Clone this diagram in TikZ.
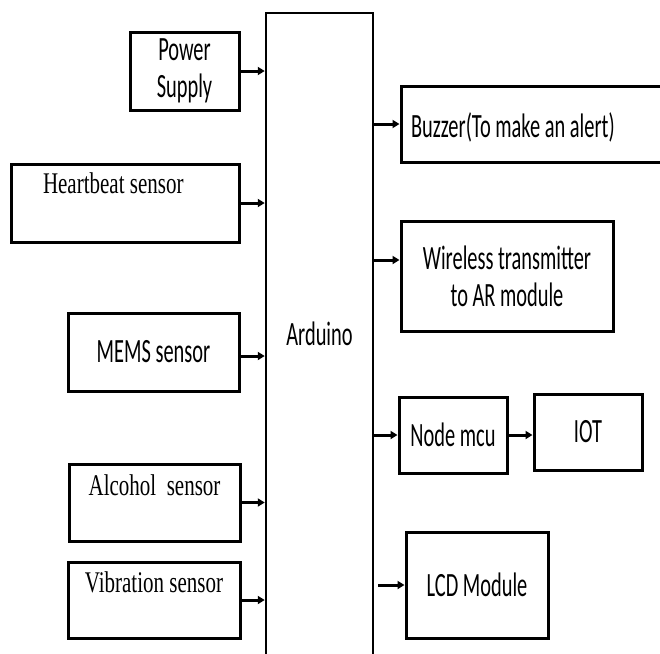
\documentclass[tikz,border=0pt]{standalone}
\usepackage{fontspec}
\usetikzlibrary{arrows.meta,calc}
\newfontfamily\calfont[FakeStretch=0.6]{Carlito}
\newfontfamily\tmsfont[FakeStretch=0.7]{Liberation Serif}
\begin{document}
\begin{tikzpicture}[x=1pt,y=-1pt,
  blk/.style={draw, line width=3pt, inner sep=0pt, align=center,
    font=\calfont\fontsize{34}{37}\selectfont},
  tblk/.style={draw, line width=3pt, inner sep=0pt, align=center,
    font=\tmsfont\fontsize{30}{34}\selectfont},
  arr/.style={line width=3pt, -{Triangle[length=7pt,width=8pt]}}]
\useasboundingbox[fill=white] (0,0) rectangle (660,653);

% Arduino (open at the bottom)
\node[draw, line width=2.5pt, inner sep=0pt, minimum width=107pt,
  text height=332pt, text depth=355pt,
  font=\calfont\fontsize{34}{37}\selectfont] (ard) at (319.5,356.5) {Arduino};

% inputs
\node[blk, minimum width=109pt, minimum height=78pt] (ps) at (184.5,71) {Power\\Supply};
\node[tblk, inner xsep=32pt, text height=29pt, text depth=49pt] (hb) at (125,203)
  {\makebox[164pt][l]{Heartbeat sensor}};
\node[blk, minimum width=171pt, minimum height=78pt] (mems) at (153.5,352) {MEMS sensor};
\node[tblk, minimum width=171pt, text height=31pt, text depth=46pt] (alc) at (154.5,502.5) {Alcohol~~sensor};
\node[tblk, minimum width=172pt, text height=30pt, text depth=46pt] (vib) at (154,600) {Vibration sensor};

% outputs
\node[blk, inner xsep=10pt, text height=51pt, text depth=25pt] (buz) at (532,124)
  {\makebox[242pt][l]{Buzzer(To make an alert)}};
\node[blk, minimum width=212pt, minimum height=110pt] (wl) at (507,276) {Wireless transmitter\\to AR module};
\node[blk, minimum width=108pt, minimum height=76pt] (nm) at (453,435) {Node mcu};
\node[blk, minimum width=108pt, minimum height=76pt] (iot) at (588,432) {IOT};
\node[blk, minimum width=142pt, minimum height=106pt] (lcd) at (477,585) {LCD Module};
\coordinate (lcdin) at (378,585);

% connectors
\draw[arr] (ps.east) -- (ps.east -| ard.west);
\draw[arr] (hb.east) -- (hb.east -| ard.west);
\draw[arr] ([yshift=-4pt]mems.east) -- ($(mems.east -| ard.west)+(0pt,-4pt)$);
\draw[arr] (alc.east) -- (alc.east -| ard.west);
\draw[arr] (vib.east) -- (vib.east -| ard.west);

\draw[arr] (ard.east |- buz.west) -- (buz.west);
\draw[arr] ($(ard.east |- wl.west)+(0pt,16pt)$) -- ([yshift=16pt]wl.west);
\draw[arr] (ard.east |- nm.west) -- (nm.west);
\draw[arr] (nm.east) -- (nm.east -| iot.west);
\draw[arr] (lcdin) -- (lcdin -| lcd.west);
\end{tikzpicture}
\end{document}
